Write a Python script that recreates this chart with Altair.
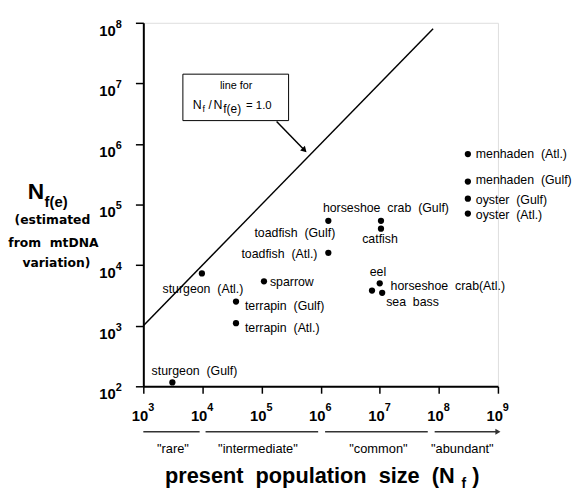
import altair as alt
import pandas as pd

# ---------------- data ----------------
species = ["sturgeon (Gulf)", "sturgeon (Atl.)", "sparrow", "terrapin (Gulf)", "terrapin (Atl.)",
           "toadfish (Atl.)", "toadfish (Gulf)", "horseshoe crab (Gulf)", "catfish", "eel",
           "horseshoe crab(Atl.)", "sea bass", "menhaden (Atl.)", "menhaden (Gulf)",
           "oyster (Gulf)", "oyster (Atl.)"]
present_size = [3.1e3, 9.8e3, 1.1e5, 3.7e4, 3.7e4, 1.35e6, 1.35e6, 1.05e7, 1.05e7, 7.4e6,
                1.0e7, 1.1e7, 3.1e8, 3.1e8, 3.1e8, 3.1e8]
estimated_size = [116, 7.3e3, 5.4e3, 2.5e3, 1.1e3, 1.6e4, 5.4e4, 5.4e4, 4.0e4, 3.8e3,
                  5.0e3, 3.5e3, 6.8e5, 2.4e5, 1.25e5, 7.1e4]
# label offsets from the point (pixels) and alignment
label_dx = [-21, 1, 6, 9, 9, -11, 7, 5, -1, 6, 11, 4, 8, 8, 8, 8]
label_dy = [-11, 16, 1, 5, 5, 1, 12, -13, 11, -19, 3, 9, 0, -1, 1, 2]
label_align = ["left", "center", "left", "left", "left", "right", "right", "center", "center",
               "center", "left", "left", "left", "left", "left", "left"]

x_ticks = [1e3, 1e4, 1e5, 1e6, 1e7, 1e8, 1e9]
y_ticks = [1e2, 1e3, 1e4, 1e5, 1e6, 1e7, 1e8]

identity_x = [1e3, 8e7]          # line N_f / N_f(e) = 1.0
box_x = [4.67e3, 2.87e5]         # annotation box extent (data units)
box_y = [2.43e6, 1.42e7]
arrow_x = [1.8e5, 5.2e5]
arrow_y = [2.34e6, 8.1e5]

cat_names = ['"rare"', '"intermediate"', '"common"', '"abundant"']
cat_start = [1e3, 1.13e4, 1.19e6, 8.5e7]
cat_end = [8.97e3, 9.08e5, 6.5e7, 1e9]
cat_center = [3.17e3, 8.7e4, 9.5e6, 2.5e8]

# ---------------- layout ----------------
W, H = 359, 368
PX_X = W / 6.0
PX_Y = H / 6.0
SANS = "Liberation Sans"

xs = alt.Scale(type="log", domain=[1e3, 1e9], nice=False)
ys = alt.Scale(type="log", domain=[1e2, 1e8], nice=False)
XAX = alt.Axis(values=x_ticks, labels=False, title=None, grid=False, tickSize=7, tickWidth=1.5,
               domainWidth=2, domainColor="black", tickColor="black")
YAX = alt.Axis(values=y_ticks, labels=False, title=None, grid=False, tickSize=8, tickWidth=1.5,
               domainWidth=2, domainColor="black", tickColor="black")


def X(f):
    return alt.X(f, scale=xs, axis=XAX, title=None)


def Y(f):
    return alt.Y(f, scale=ys, axis=YAX, title=None)


pts = pd.DataFrame({"name": species, "x": present_size, "y": estimated_size,
                    "dx": label_dx, "dy": label_dy, "align": label_align})
pts["lx"] = pts["x"] * 10 ** (pts["dx"] / PX_X)
pts["ly"] = pts["y"] * 10 ** (-pts["dy"] / PX_Y)
pts["label"] = pts["name"].str.replace(" ", "\u00a0 ")

points = alt.Chart(pts).mark_circle(size=40, color="black", opacity=1).encode(
    x=X("x:Q"), y=Y("y:Q"))

label_layers = []
for al in ["left", "center", "right"]:
    label_layers.append(
        alt.Chart(pts).transform_filter(alt.datum.align == al).mark_text(
            align=al, baseline="middle", font=SANS, fontSize=12.5, color="black"
        ).encode(x=X("lx:Q"), y=Y("ly:Q"), text="label:N")
    )

line_df = pd.DataFrame({"x": identity_x, "y": identity_x})
ident = alt.Chart(line_df).mark_line(color="black", strokeWidth=1.5).encode(
    x=X("x:Q"), y=Y("y:Q"))

box_df = pd.DataFrame({"x": [box_x[0]], "x2": [box_x[1]], "y": [box_y[0]], "y2": [box_y[1]]})
box = alt.Chart(box_df).mark_rect(fill="white", stroke="black", strokeWidth=1).encode(
    x=X("x:Q"), x2="x2:Q", y=Y("y:Q"), y2="y2:Q")

arrow_df = pd.DataFrame({"x": arrow_x, "y": arrow_y, "o": [0, 1]})
arrow = alt.Chart(arrow_df).mark_line(color="black", strokeWidth=1.5).encode(
    x=X("x:Q"), y=Y("y:Q"), order="o:Q")
arrow_head = alt.Chart(arrow_df.iloc[[1]]).mark_point(
    shape="triangle", filled=True, angle=136, size=45, color="black", opacity=1).encode(
    x=X("x:Q"), y=Y("y:Q"))

# tick labels
xt = pd.DataFrame({"v": x_ticks, "e": [str(i) for i in range(3, 10)]})
yt = pd.DataFrame({"v": y_ticks, "e": [str(i) for i in range(2, 9)]})
x_base = alt.Chart(xt).mark_text(text="10", align="right", dx=5, font=SANS, fontWeight="bold",
                                 fontSize=15, color="black").encode(
    x=X("v:Q"), y=alt.value(398))
x_exp = alt.Chart(xt).mark_text(align="left", dx=5, font=SANS, fontWeight="bold",
                                fontSize=11, color="black").encode(
    x=X("v:Q"), y=alt.value(390), text="e:N")
y_base = alt.Chart(yt).mark_text(text="10", align="right", dy=8, font=SANS, fontWeight="bold",
                                 fontSize=15, color="black").encode(
    y=Y("v:Q"), x=alt.value(-28))
y_exp = alt.Chart(yt).mark_text(align="left", dy=2, font=SANS, fontWeight="bold",
                                fontSize=11, color="black").encode(
    y=Y("v:Q"), x=alt.value(-28), text="e:N")

# category band below x axis
cat_df = pd.DataFrame({"name": cat_names, "s": cat_start, "e": cat_end, "c": cat_center})
cat_lines = alt.Chart(cat_df).mark_rule(color="#333333", strokeWidth=1.5).encode(
    x=X("s:Q"), x2="e:Q", y=alt.value(414))
cat_arrow = alt.Chart(cat_df.iloc[[3]]).mark_point(
    shape="triangle-right", filled=True, size=35, color="#333333", opacity=1).encode(
    x=X("e:Q"), y=alt.value(414))
cat_text = alt.Chart(cat_df).mark_text(baseline="middle", font=SANS, fontSize=13,
                                       color="black").encode(
    x=X("c:Q"), y=alt.value(432), text="name:N")


def txt(s, x, y, size, bold=False, align="left", font=SANS, baseline="alphabetic"):
    return alt.Chart(pd.DataFrame({"t": [s]})).mark_text(
        text=s, align=align, baseline=baseline, font=font, fontSize=size,
        fontWeight="bold" if bold else "normal", color="black"
    ).encode(x=alt.value(x), y=alt.value(y))


texts = [
    # y title
    txt("N", -117, 178, 23, bold=True),
    txt("f(e)", -100, 186, 15, bold=True),
    txt("(estimated", -92, 200, 12.5, bold=True, align="center", font="DejaVu Sans", baseline="middle"),
    txt("from\u00a0 mtDNA", -91, 223, 12.5, bold=True, align="center", font="DejaVu Sans", baseline="middle"),
    txt("variation)", -88, 243, 12.5, bold=True, align="center", font="DejaVu Sans", baseline="middle"),
    # x title
    txt("present\u00a0 population\u00a0 size\u00a0 (N", 22, 466, 22, bold=True),
    txt("f", 322, 471, 14, bold=True),
    txt(")", 333, 466, 22, bold=True),
    # box text
    txt("line for", 94, 64, 11, align="center", baseline="middle"),
    txt("N", 50, 87, 12.5),
    txt("f", 60, 90, 9),
    txt("/", 66, 87, 12),
    txt("N", 71, 87, 12.5),
    txt("f(e)", 81, 91, 12),
    txt("= 1.0", 104, 87, 11.5),
]

chart = alt.layer(
    ident, box, arrow, arrow_head, points, *label_layers,
    x_base, x_exp, y_base, y_exp, cat_lines, cat_arrow, cat_text, *texts
).properties(
    width=W, height=H,
    padding={"left": 137, "top": 12, "right": 76, "bottom": 102},
    autosize=alt.AutoSizeParams(type="none"),
).configure_view(stroke=None).configure(background="white")

chart.save("out.html", embed_options={"renderer": "svg", "actions": False})
